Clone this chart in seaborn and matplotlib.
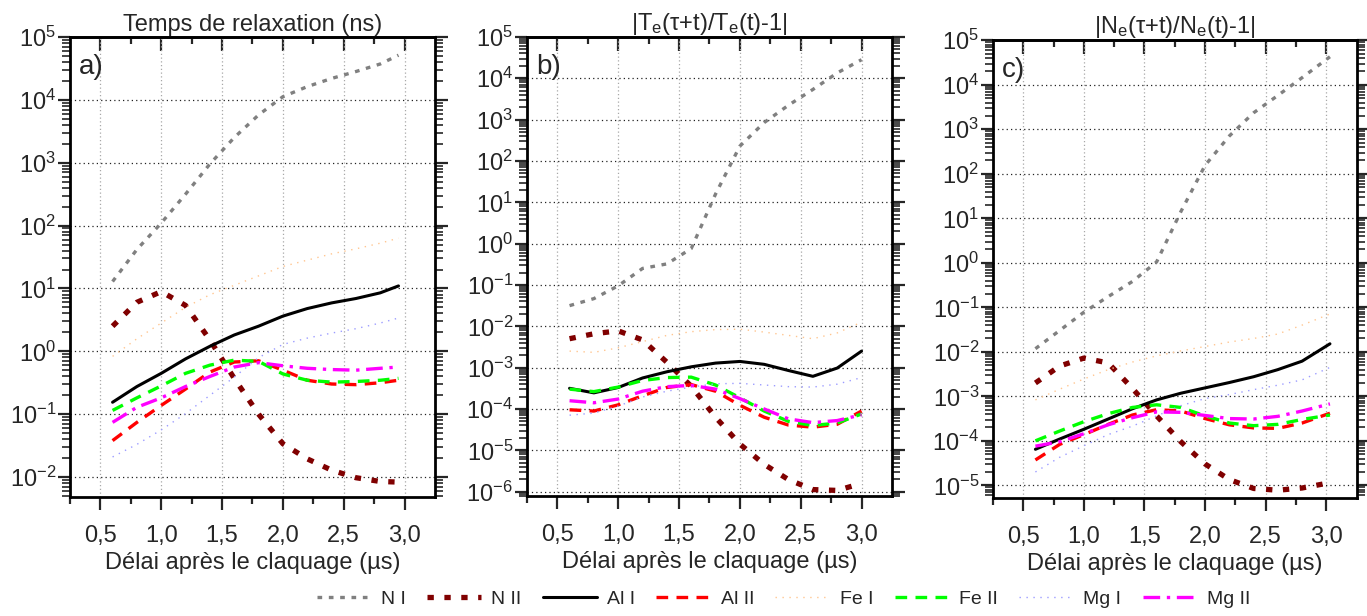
import matplotlib
matplotlib.use("Agg")
import matplotlib.pyplot as plt
import matplotlib.ticker as mticker
import numpy as np
import pandas as pd
import seaborn as sns

# delay after breakdown (µs), one grid per panel
x_a = [0.6, 0.8, 1.0, 1.2, 1.4, 1.6, 1.8, 2.0, 2.2, 2.4, 2.6, 2.8, 2.95]
x_b = [0.6, 0.8, 1.0, 1.2, 1.4, 1.6, 1.8, 2.0, 2.2, 2.4, 2.6, 2.8, 3.0]
x_c = [0.6, 0.8, 1.0, 1.2, 1.4, 1.6, 1.8, 2.0, 2.2, 2.4, 2.6, 2.8, 3.03]

# values, as log10
# a) relaxation time (ns)
a_NI = [1.11, 1.62, 2.04, 2.50, 2.98, 3.40, 3.76, 4.05, 4.21, 4.34, 4.45, 4.57, 4.71]
a_NII = [0.40, 0.78, 0.95, 0.73, 0.18, -0.43, -1.00, -1.47, -1.71, -1.89, -2.01, -2.07, -2.08]
a_AlI = [-0.81, -0.56, -0.35, -0.12, 0.08, 0.26, 0.40, 0.56, 0.68, 0.77, 0.84, 0.93, 1.04]
a_AlII = [-1.42, -1.13, -0.86, -0.60, -0.33, -0.17, -0.15, -0.30, -0.46, -0.52, -0.53, -0.50, -0.46]
a_FeI = [-0.08, 0.20, 0.45, 0.70, 0.90, 1.05, 1.20, 1.35, 1.45, 1.55, 1.63, 1.72, 1.80]
a_FeII = [-0.94, -0.74, -0.55, -0.35, -0.22, -0.14, -0.16, -0.36, -0.46, -0.49, -0.48, -0.46, -0.43]
a_MgI = [-1.68, -1.48, -1.25, -0.99, -0.70, -0.41, -0.10, 0.11, 0.21, 0.29, 0.36, 0.45, 0.53]
a_MgII = [-1.13, -0.89, -0.74, -0.56, -0.40, -0.25, -0.18, -0.23, -0.27, -0.29, -0.30, -0.27, -0.25]

# b) |Te(tau+t)/Te(t)-1|
b_NI = [-1.50, -1.33, -1.02, -0.60, -0.49, -0.12, 1.20, 2.36, 2.93, 3.35, 3.73, 4.13, 4.45]
b_NII = [-2.30, -2.18, -2.11, -2.33, -2.87, -3.45, -4.20, -4.85, -5.34, -5.71, -5.95, -5.97, -5.80]
b_AlI = [-3.50, -3.61, -3.48, -3.25, -3.10, -2.98, -2.89, -2.85, -2.92, -3.07, -3.21, -3.01, -2.60]
b_AlII = [-4.02, -4.05, -3.90, -3.68, -3.48, -3.41, -3.57, -3.91, -4.20, -4.39, -4.44, -4.37, -4.05]
b_FeI = [-2.60, -2.63, -2.52, -2.37, -2.22, -2.13, -2.08, -2.07, -2.14, -2.22, -2.30, -2.16, -1.90]
b_FeII = [-3.52, -3.58, -3.47, -3.31, -3.24, -3.23, -3.42, -3.73, -4.05, -4.30, -4.40, -4.34, -4.12]
b_MgI = [-4.15, -4.10, -3.93, -3.71, -3.57, -3.47, -3.39, -3.38, -3.42, -3.46, -3.47, -3.40, -3.24]
b_MgII = [-3.80, -3.85, -3.76, -3.57, -3.46, -3.43, -3.52, -3.75, -4.00, -4.24, -4.33, -4.28, -4.14]

# c) |Ne(tau+t)/Ne(t)-1|
c_NI = [-1.93, -1.52, -1.11, -0.76, -0.42, 0.02, 1.15, 2.19, 2.85, 3.37, 3.76, 4.16, 4.63]
c_NII = [-2.70, -2.32, -2.14, -2.25, -2.82, -3.44, -4.02, -4.52, -4.87, -5.07, -5.11, -5.06, -4.94]
c_AlI = [-4.19, -3.96, -3.74, -3.51, -3.28, -3.08, -2.93, -2.81, -2.69, -2.56, -2.40, -2.21, -1.82]
c_AlII = [-4.43, -4.08, -3.86, -3.63, -3.42, -3.30, -3.33, -3.50, -3.64, -3.71, -3.72, -3.60, -3.38]
c_FeI = [-3.08, -2.84, -2.61, -2.40, -2.23, -2.09, -1.98, -1.88, -1.78, -1.70, -1.60, -1.40, -1.15]
c_FeII = [-4.00, -3.78, -3.57, -3.39, -3.25, -3.19, -3.25, -3.44, -3.60, -3.66, -3.63, -3.52, -3.42]
c_MgI = [-4.70, -4.37, -4.11, -3.86, -3.67, -3.44, -3.21, -3.05, -2.96, -2.85, -2.75, -2.63, -2.35]
c_MgII = [-4.12, -4.02, -3.84, -3.64, -3.48, -3.35, -3.36, -3.43, -3.50, -3.51, -3.45, -3.33, -3.17]

species = ["N I", "N II", "Al I", "Al II", "Fe I", "Fe II", "Mg I", "Mg II"]
titles = ["Temps de relaxation (ns)",
          r"|T$_\mathregular{e}$(τ+t)/T$_\mathregular{e}$(t)-1|",
          r"|N$_\mathregular{e}$(τ+t)/N$_\mathregular{e}$(t)-1|"]
panel_tags = ["a)", "b)", "c)"]
ylims = [(4.8e-3, 1e5), (7.9e-7, 1e5), (5.2e-6, 1e5)]

# line styles (colour, width, dash pattern)
styles = {
    "N I": ("#808080", 2.4, (0, (1.4, 2.0))),
    "N II": ("#800000", 3.8, (0, (1.2, 2.0))),
    "Al I": ("#000000", 2.2, "-"),
    "Al II": ("#ff0000", 2.4, (0, (3.5, 2.5))),
    "Fe I": ("#ffc690", 1.0, (0, (1, 4))),
    "Fe II": ("#00ff00", 2.4, (0, (3.5, 2.5))),
    "Mg I": ("#9c9cff", 1.0, (0, (1, 4))),
    "Mg II": ("#ff00ff", 2.4, (0, (5, 2, 1, 2))),
}

def build(x, rows):
    frames = []
    for sp, vals in zip(species, rows):
        frames.append(pd.DataFrame({"x": x, "val": 10.0 ** np.array(vals), "species": sp}))
    return pd.concat(frames, ignore_index=True)

panels = [
    build(x_a, [a_NI, a_NII, a_AlI, a_AlII, a_FeI, a_FeII, a_MgI, a_MgII]),
    build(x_b, [b_NI, b_NII, b_AlI, b_AlII, b_FeI, b_FeII, b_MgI, b_MgII]),
    build(x_c, [c_NI, c_NII, c_AlI, c_AlII, c_FeI, c_FeII, c_MgI, c_MgII]),
]

sns.set_style("white")
plt.rcParams["font.family"] = ["Liberation Sans", "DejaVu Sans"]
plt.rcParams["mathtext.fontset"] = "custom"
plt.rcParams["mathtext.rm"] = "Liberation Sans"
plt.rcParams["mathtext.it"] = "Liberation Sans:italic"
plt.rcParams["mathtext.default"] = "regular"
plt.rcParams["axes.unicode_minus"] = False

fig = plt.figure(figsize=(13.67, 6.16), dpi=100)
boxes = [[0.0512, 0.193, 0.267, 0.747],
         [0.3855, 0.195, 0.267, 0.745],
         [0.7264, 0.1916, 0.266, 0.743]]

axes = []
for i, df in enumerate(panels):
    ax = fig.add_axes(boxes[i])
    axes.append(ax)
    for sp in species:
        col, lw, ls = styles[sp]
        sns.lineplot(data=df[df["species"] == sp], x="x", y="val", ax=ax,
                     color=col, lw=lw, linestyle=ls, label=sp, legend=False)
    ax.set_yscale("log")
    ax.set_xlim(0.25, 3.25)
    ax.set_ylim(*ylims[i])
    ax.set_title(titles[i], fontsize=17, pad=4)
    ax.set_xlabel("Délai après le claquage (µs)", fontsize=17, labelpad=4)
    ax.set_ylabel("")
    ax.text(0.025, 0.935, panel_tags[i], transform=ax.transAxes, fontsize=20,
            va="center", ha="left")

    ax.xaxis.set_major_locator(mticker.FixedLocator([0.5, 1.0, 1.5, 2.0, 2.5, 3.0]))
    ax.xaxis.set_major_formatter(mticker.FuncFormatter(lambda v, p: f"{v:.1f}".replace(".", ",")))
    ax.xaxis.set_minor_locator(mticker.FixedLocator([0.25, 0.75, 1.25, 1.75, 2.25, 2.75]))
    decades = np.arange(int(np.ceil(np.log10(ylims[i][0]))), 6)
    ax.yaxis.set_major_locator(mticker.FixedLocator(10.0 ** decades))
    ax.yaxis.set_major_formatter(mticker.LogFormatterMathtext())
    ax.yaxis.set_minor_locator(mticker.LogLocator(base=10, subs=np.arange(2, 10), numticks=50))
    ax.yaxis.set_minor_formatter(mticker.NullFormatter())

    ax.tick_params(axis="x", which="major", direction="out", length=9, width=1.6,
                   labelsize=17, pad=11, bottom=True, top=False)
    ax.tick_params(axis="x", which="minor", direction="out", length=5, width=1.6,
                   bottom=True, top=False)
    ax.tick_params(axis="y", which="major", direction="out", length=9, width=1.6,
                   labelsize=17, left=True, right=True, pad=1)
    ax.tick_params(axis="y", which="minor", direction="out", length=5.5, width=1.2,
                   left=True, right=True)

    top = ax.secondary_xaxis("top")
    top.xaxis.set_major_locator(mticker.FixedLocator([0.5, 1.0, 1.5, 2.0, 2.5, 3.0]))
    top.xaxis.set_minor_locator(mticker.FixedLocator([0.75, 1.25, 1.75, 2.25, 2.75]))
    top.tick_params(which="major", direction="in", length=10, width=1.6, labeltop=False, top=True)
    top.tick_params(which="minor", direction="in", length=5, width=1.6, top=True)
    top.spines["top"].set_linewidth(2)

    ax.grid(True, which="major", axis="x", color="#a8a8a8", ls=(0, (1, 2)), lw=0.9)
    ax.grid(True, which="major", axis="y", color="#222222", ls=(0, (1, 2.5)), lw=0.9)
    for s in ax.spines.values():
        s.set_linewidth(2)
        s.set_color("black")

handles, labels = axes[0].get_legend_handles_labels()
fig.legend(handles, labels, loc="center", bbox_to_anchor=(0.573, 0.027), ncol=8,
           frameon=False, handlelength=2.8, handletextpad=0.5, columnspacing=1.1,
           fontsize=14)

fig.savefig("out.png", dpi=100)
